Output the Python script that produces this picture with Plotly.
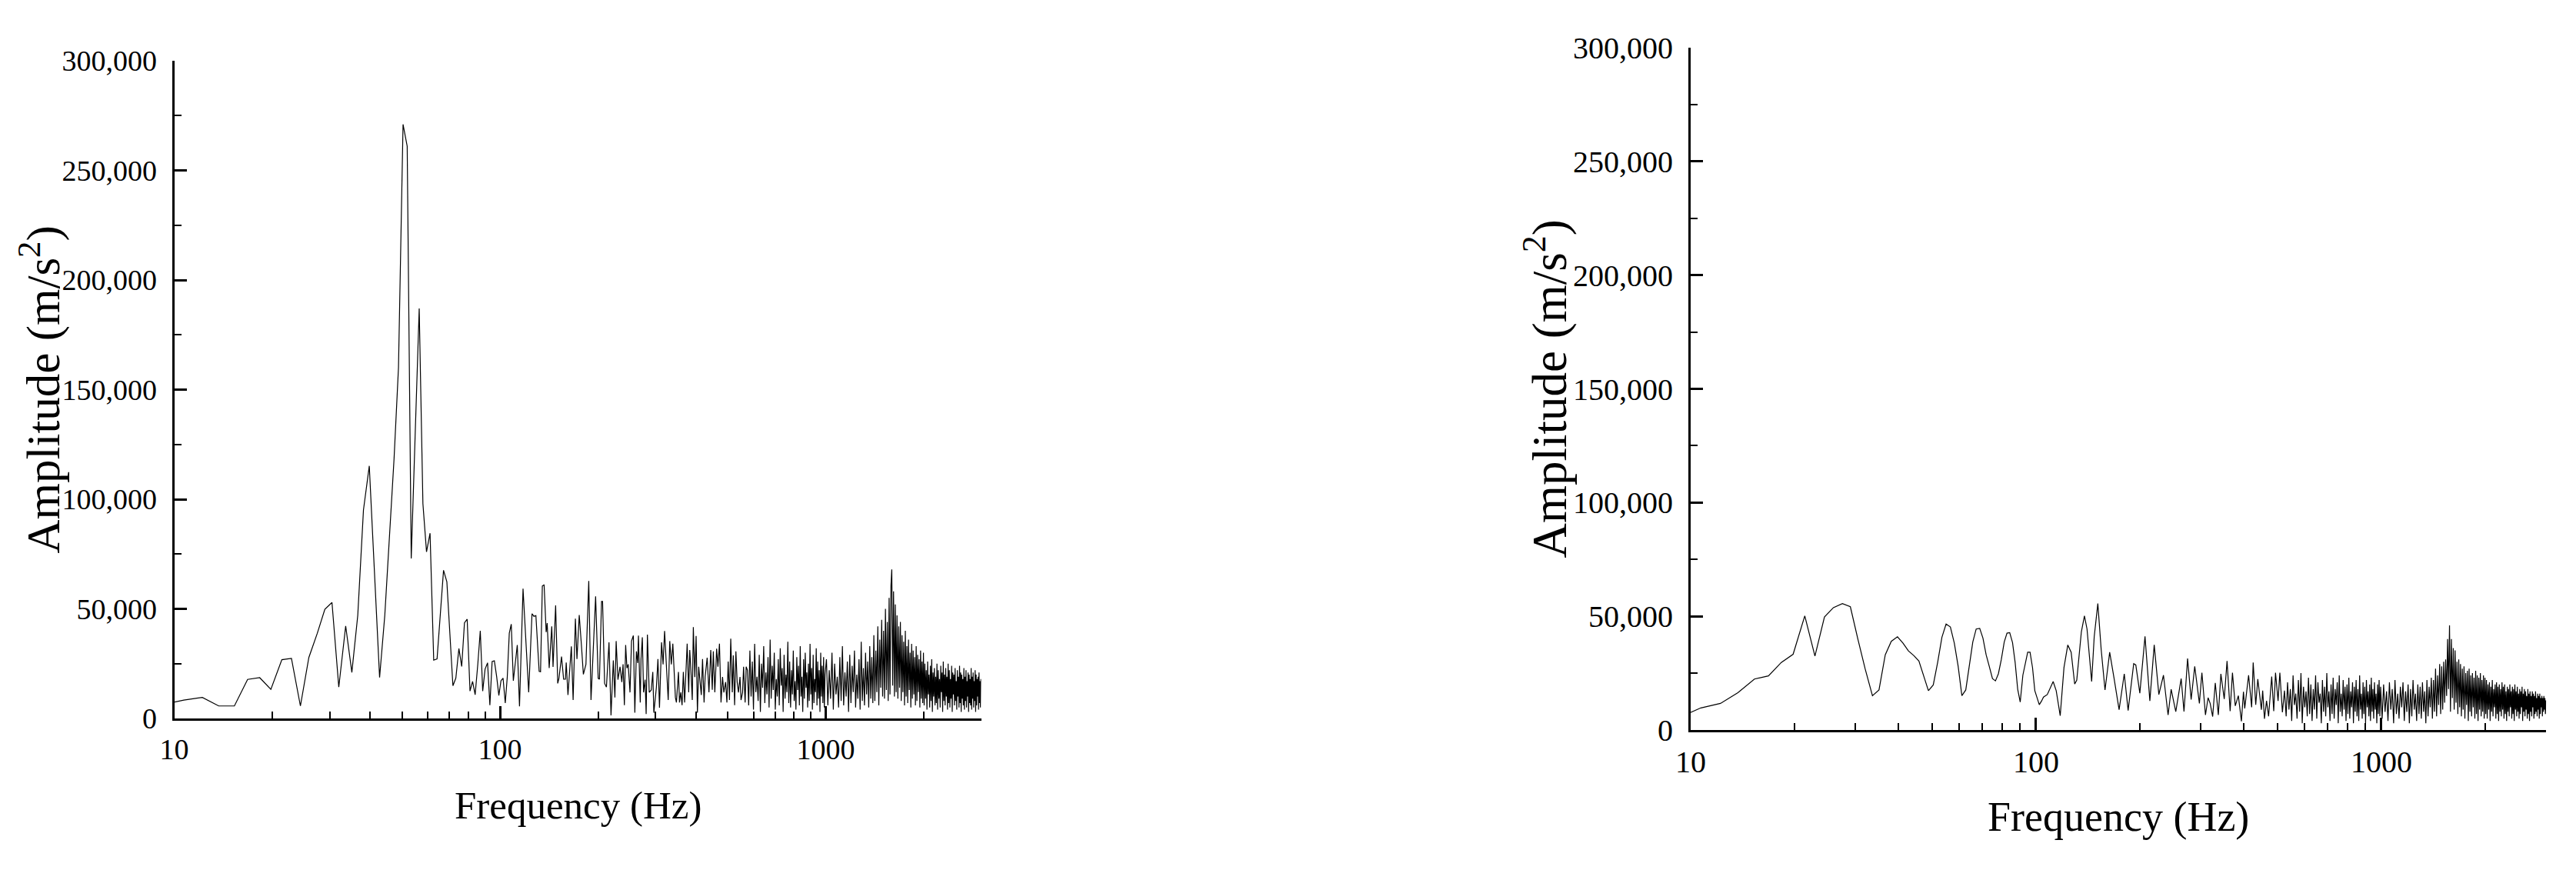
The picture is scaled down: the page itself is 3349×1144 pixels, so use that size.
import numpy as np
import plotly.graph_objects as go

# ---------------- data (amplitudes in thousands of m/s^2) ----------------
# Left spectrum: low-frequency FFT bins (Hz)
left_low_freq = [9.2, 10.7, 12.2, 13.7, 15.3, 16.8, 18.3, 19.8, 21.4, 22.9, 24.4, 25.9, 27.5, 29.0, 30.5,
                 32.0, 33.6, 35.1, 36.6, 38.1, 39.7, 41.2, 42.7, 44.3, 45.8, 47.3, 48.8, 50.4, 51.9, 53.4,
                 54.9, 56.5, 58.0, 59.5, 61.0, 62.6, 64.1, 65.6, 67.1, 68.7, 70.2, 71.7, 73.2, 74.8, 76.3,
                 77.8, 79.3, 80.9, 82.4, 83.9, 85.5, 87.0, 88.5, 90.0, 91.6, 93.1, 94.6, 96.1, 97.7, 99.2,
                 100.7, 102.2, 103.8, 105.3, 106.8, 108.3, 109.9]
left_low_amp = [6.3, 8.4, 9.6, 5.7, 5.7, 17.8, 18.6, 13.3, 26.8, 27.4, 5.7, 27.8, 38.9, 49.8, 52.9,
                14.3, 42.2, 21.0, 47.1, 95.1, 115.2, 68.0, 18.7, 47.0, 83.0, 118.5, 160.0, 271.0, 261.0, 73.0,
                129.0, 187.0, 98.0, 76.0, 84.5, 26.6, 27.2, 47.0, 67.6, 62.3, 38.9, 14.9, 18.4, 31.9, 23.7,
                43.6, 45.3, 12.5, 16.9, 10.8, 24.8, 40.0, 12.5, 22.5, 25.4, 6.1, 26.0, 26.3, 19.0, 10.5,
                17.2, 18.4, 7.0, 19.0, 38.9, 43.0, 17.2]
left_mid_freq = [113.0, 114.8, 117.7, 122.5, 125.4, 127.1, 128.9, 131.9, 133.2, 134.9, 136.6, 138.6, 139.6,
                 141.6, 144.2, 145.5, 148.2, 150.4, 151.7, 154.5, 156.8, 158.8, 159.7, 161.7, 165.6, 167.7,
                 170.4, 172.3, 175.1, 177.7, 180.3, 183.6, 187.3, 190.3, 196.6, 200.2, 202.0, 205.0, 206.5,
                 209.5, 212.2, 216.1, 219.2, 222.8, 225.3, 227.3, 230.2,
                 233.6, 236.6, 238.7, 240.9, 243.1, 245.3, 247.5, 250.7, 253.4, 256.7, 259.4, 262.3, 264.7,
                 266.1, 269.5, 271.0, 273.5, 275.9, 278.9, 281.0, 283.5, 287.2, 291.4, 294.5, 296.7, 302.1,
                 305.4, 308.8, 313.3, 316.7, 320.1, 324.8, 328.4, 332.0, 335.7, 339.3, 343.0, 345.5, 348.0,
                 350.6, 353.1, 355.7, 358.9, 362.2, 365.5, 368.8, 372.2, 375.5, 379.6, 382.4, 385.8, 389.3,
                 392.2, 396.4, 400.0, 403.7, 407.4, 411.1, 414.9, 418.6, 423.2, 426.3, 432.5, 438.0, 443.6,
                 448.4, 451.7, 456.6, 462.5, 466.7, 471.8, 477.0, 482.2, 486.6, 492.8, 497.3, 501.8, 506.4,
                 511.0, 516.6, 520.3, 525.1, 529.9, 534.7, 539.6, 545.5, 549.5, 555.5, 559.5, 565.6, 569.8]
left_mid_amp = [33.5, 5.5, 59.2, 11.9, 47.8, 46.6, 46.9, 21.5, 21.3, 60.4, 61.0, 39.4, 43.5,
                23.0, 42.0, 23.5, 51.6, 16.0, 18.3, 28.2, 17.9, 17.9, 25.5, 10.7, 32.9, 8.4,
                45.5, 27.1, 47.2, 34.1, 20.1, 24.7, 62.7, 8.4, 55.7, 18.3, 17.9, 53.4, 53.4,
                16.0, 14.3, 34.7, 1.4, 26.5, 9.6, 35.3, 17.7,
                23.6, 16.6, 24.7, 6.1, 33.5, 23.0, 24.7, 11.9, 35.3, 37.8, 2.6, 30.6, 25.3,
                37.8, 7.3, 27.1, 37.0, 11.9, 17.7, 2.0, 38.2, 11.9, 13.0, 21.2, 2.6, 14.2,
                27.1, 4.9, 34.7, 24.7, 39.9, 23.6, 8.4, 35.3, 24.7, 34.1, 21.2, 9.6, 7.3,
                13.1, 21.2, 7.3, 11.9, 6.1, 21.2, 7.3, 20.1, 34.1, 11.9, 31.2, 21.2, 8.4,
                41.7, 18.9, 37.6, 2.6, 23.6, 16.6, 10.7, 27.1, 7.3, 18.9, 27.7, 11.9, 31.2,
                13.1, 30.6, 11.9, 31.8, 23.6, 34.1, 7.3, 18.9, 11.9, 16.6, 7.3, 26.0, 8.4,
                36.4, 11.9, 28.8, 6.1, 30.6, 16.6, 11.9, 18.9, 8.4, 11.9, 23.6, 7.3, 23.6]
# 575-995 Hz, evenly spaced (5 Hz)
left_hf1_amp = [22, 6, 31, 10, 26, 4, 34, 12, 19, 8, 29, 3, 25, 14, 33, 7, 21, 11, 28, 5,
                36, 9, 24, 13, 30, 4, 18, 10, 27, 6, 32, 15, 23, 3, 29, 9, 20, 12, 35, 7,
                26, 5, 22, 11, 31, 8, 17, 4, 28, 13, 24, 6, 33, 10, 19, 3, 27, 9, 30, 14,
                21, 5, 25, 8, 34, 11, 23, 4, 29, 7, 18, 12, 32, 6, 26, 9, 22, 3, 30, 10,
                24, 7, 28, 5, 20]
# 1005-2995 Hz, evenly spaced (10 Hz)
left_hf2_amp = [27, 6, 22, 9, 30, 4, 25, 11, 19, 5, 28, 8, 33, 6, 21, 10, 26, 3, 29, 7,
                24, 12, 31, 5, 20, 9, 27, 4, 35, 8, 23, 6, 30, 11, 26, 5, 33, 9, 28, 7,
                38, 8, 31, 12, 42, 6, 36, 14, 45, 10,
                40, 9, 50, 13, 44, 8, 55, 11, 60, 68, 15, 58, 10, 52, 12, 47, 9, 42, 14, 44,
                8, 38, 12, 35, 6, 40, 10, 33, 7, 36, 13, 30, 5, 34, 9, 31, 11, 28, 6, 33,
                8, 29, 12, 27, 5, 31, 9, 26, 7, 30,
                6, 25, 9, 22, 4, 26, 11, 20, 5, 24, 8, 27, 3, 21, 10, 23, 6, 19, 7, 25,
                4, 22, 9, 18, 5, 24, 12, 21, 3, 26, 8, 20, 6, 23, 10, 19, 4, 25, 7, 22,
                5, 18, 9, 24, 3, 21, 11, 20, 6, 23, 8, 17, 4, 22, 10, 19, 5, 24, 7, 21,
                3, 20, 9, 18, 6, 23, 4, 19, 8, 22, 5, 17, 10, 21, 3, 20, 7, 18, 6, 23,
                4, 19, 9, 21, 5, 17, 8, 22, 3, 20, 6, 18, 10, 19, 4, 21, 7, 17, 5, 18]

# Right spectrum
right_low_freq = left_low_freq[:63]
right_low_amp = [5.3, 9.7, 11.7, 16.4, 22.4, 23.8, 29.7, 33.3, 50.2, 32.5, 49.7, 53.8, 55.6, 54.2, 39.9,
                 26.9, 15.1, 17.6, 33.1, 39.0, 41.0, 38.2, 34.8, 32.7, 30.3, 23.5, 17.3, 19.8, 29.7, 40.8,
                 46.6, 45.3, 38.2, 28.0, 15.1, 17.6, 28.6, 38.7, 44.4, 44.7, 40.4, 33.1, 28.0, 22.6, 21.6,
                 24.7, 30.8, 38.7, 42.6, 42.8, 38.4, 29.7, 17.9, 12.3, 24.1, 29.7, 34.2, 34.2, 27.4, 17.3,
                 13.9, 11.1, 12.8]
right_mid_freq = [105.1, 107.8, 109.7, 112.1, 114.4, 117.5, 120.5, 123.6, 126.4, 129.4, 131.2, 135.3, 138.1,
                  140.5, 144.9, 147.4, 151.0, 154.4, 158.4, 163.4, 168.2, 174.0, 180.1, 184.8, 191.8, 194.5,
                  199.8, 206.8, 213.6, 219.9, 226.8, 233.9, 241.2, 246.2, 253.9, 263.2, 268.2, 274.7, 281.3,
                  288.1, 297.2, 302.2, 309.5, 314.9, 319.3, 324.7, 330.4, 337.2, 343.0, 350.7, 357.4, 364.8,
                  370.5, 377.5, 385.3, 393.3, 398.7, 402.1, 412.6, 421.1, 425.4, 432.7, 438.7, 449.3, 453.2,
                  458.6, 465.0, 471.4, 481.3, 487.9, 493.7, 502.2, 508.2, 516.9, 524.1]
right_mid_amp = [14.5, 15.6, 18.4, 21.3, 17.3, 6.3, 27.5, 37.4, 34.2, 20.2, 21.9, 43.2, 50.2,
                 44.4, 21.3, 41.0, 55.6, 35.4, 17.6, 34.2, 22.9, 8.9, 24.7, 8.6, 29.2, 28.6,
                 16.2, 41.2, 12.8, 37.4, 15.6, 24.1, 6.6, 17.9, 8.1, 22.6, 8.1, 31.4, 13.4,
                 28.0, 11.7, 25.2, 6.6, 14.2, 11.7, 5.9, 20.7, 6.6, 24.7, 13.6, 30.3, 8.3,
                 25.2, 10.6, 15.1, 3.8, 16.8, 9.5, 24.1, 10.0, 29.7, 11.1, 22.4, 8.9, 17.3,
                 4.9, 12.8, 6.0, 23.5, 8.3, 25.2, 12.8, 25.2, 7.8, 17.3]
# 530-995 Hz, evenly spaced (5 Hz)
right_hf1_amp = [6, 21, 9, 18, 4, 24, 11, 16, 5, 22, 8, 25, 3, 19, 10, 17, 6, 23, 7, 20,
                 4, 18, 9, 24, 5, 21, 12, 16, 3, 22, 8, 19, 6, 25, 10, 17, 4, 20, 7, 23,
                 5, 18, 11, 21, 3, 24, 8, 16, 6, 22, 9, 19, 4, 20, 7, 23, 5, 17, 10, 21,
                 3, 19, 8, 22, 6, 18, 4, 24, 9, 16, 5, 21, 7, 19, 3, 22, 10, 17, 6, 20,
                 4, 23, 8, 18, 5, 21, 9, 16, 3, 20, 7, 22, 6, 19]
# 1005-2995 Hz, evenly spaced (10 Hz)
right_hf2_amp = [5, 20, 8, 17, 4, 21, 9, 18, 3, 22, 7, 16, 5, 19, 10, 21, 4, 17, 8, 20,
                 3, 18, 6, 22, 9, 16, 4, 20, 7, 19, 5, 21, 8, 17, 3, 22, 6, 19, 10, 23,
                 5, 22, 8, 27, 6, 24, 11, 29, 7, 28,
                 9, 30, 12, 31, 15, 40, 18, 46, 8, 40, 14, 36, 9, 35, 12, 30, 7, 31, 10, 29,
                 6, 27, 9, 28, 5, 25, 11, 26, 4, 27, 8, 24, 6, 25, 10, 23, 5, 26, 7, 24,
                 4, 23, 9, 25, 6, 22, 8, 24, 5, 23,
                 7, 22, 5, 20, 9, 21, 4, 19, 8, 22, 6, 18, 10, 20, 5, 21, 7, 19, 4, 20,
                 8, 18, 6, 21, 9, 19, 5, 20, 7, 17, 4, 19, 8, 18, 6, 20, 10, 17, 5, 19,
                 7, 18, 4, 20, 9, 17, 6, 19, 8, 16, 5, 18, 7, 17, 10, 19, 4, 16, 8, 18,
                 6, 17, 9, 15, 5, 18, 7, 16, 4, 17, 8, 15, 6, 17, 10, 16, 5, 15, 7, 17,
                 8, 14, 6, 16, 9, 15, 5, 16, 7, 14, 10, 15, 6, 14, 8, 15, 9, 14, 7, 13]

x_tick_vals = [10, 100, 1000]
x_tick_text = ["10", "100", "1000"]
x_minor_vals = [20, 30, 40, 50, 60, 70, 80, 90, 200, 300, 400, 500, 600, 700, 800, 900, 2000, 3000]
y_tick_vals = [0, 50000, 100000, 150000, 200000, 250000, 300000]
y_tick_text = ["0", "50,000", "100,000", "150,000", "200,000", "250,000", "300,000"]
y_minor_vals = [25000, 75000, 125000, 175000, 225000, 275000]
x_title = "Frequency (Hz)"
y_title = "Amplitude (m/s<sup>2</sup>)"


def assemble(low_f, low_a, mid_f, mid_a, hf1_range, hf1_a, hf2_range, hf2_a):
    f, a = [], []
    for ff, aa in zip(low_f, low_a):
        f.append(ff); a.append(aa)
    for ff, aa in zip(mid_f, mid_a):
        f.append(ff); a.append(aa)
    for ff, aa in zip(np.linspace(hf1_range[0], hf1_range[1], len(hf1_a)), hf1_a):
        f.append(float(ff)); a.append(aa)
    for ff, aa in zip(np.linspace(hf2_range[0], hf2_range[1], len(hf2_a)), hf2_a):
        f.append(float(ff)); a.append(aa)
    return f, [v * 1000 for v in a]


lf, la = assemble(left_low_freq, left_low_amp, left_mid_freq, left_mid_amp,
                  (575, 995), left_hf1_amp, (1005, 2995), left_hf2_amp)
rf, ra = assemble(right_low_freq, right_low_amp, right_mid_freq, right_mid_amp,
                  (530, 995), right_hf1_amp, (1005, 2995), right_hf2_amp)

W, H = 3349, 1144
OFF = 8  # default page (body) margin that shifts the figure in the browser
FONT = "Liberation Serif, Times New Roman, serif"

fig = go.Figure()
fig.add_trace(go.Scatter(x=lf, y=la, mode="lines", line=dict(color="black", width=1.2),
                         xaxis="x", yaxis="y", showlegend=False, hoverinfo="skip"))
fig.add_trace(go.Scatter(x=rf, y=ra, mode="lines", line=dict(color="black", width=1.2),
                         xaxis="x2", yaxis="y2", showlegend=False, hoverinfo="skip"))


def xaxis_style(dom, anchor, fs):
    return dict(domain=dom, anchor=anchor, type="log", range=[1, np.log10(3000)],
                automargin=False,
                showline=True, linecolor="black", linewidth=3, mirror=False,
                showgrid=False, zeroline=False,
                tickmode="array", tickvals=x_tick_vals, ticktext=x_tick_text,
                ticks="inside", ticklen=16, tickwidth=3, tickcolor="black",
                minor=dict(tickmode="array", tickvals=x_minor_vals, ticks="inside",
                           ticklen=9, tickwidth=2, tickcolor="black", showgrid=False),
                tickfont=dict(family=FONT, size=fs, color="black"),
                ticklabelstandoff=4)


def yaxis_style(dom, anchor, fs):
    return dict(domain=dom, anchor=anchor, range=[0, 300000],
                automargin=False,
                showline=True, linecolor="black", linewidth=3, mirror=False,
                showgrid=False, zeroline=False,
                tickmode="array", tickvals=y_tick_vals, ticktext=y_tick_text,
                ticks="inside", ticklen=16, tickwidth=3, tickcolor="black",
                minor=dict(tickmode="array", tickvals=y_minor_vals, ticks="inside",
                           ticklen=9, tickwidth=2, tickcolor="black", showgrid=False),
                tickfont=dict(family=FONT, size=fs, color="black"),
                ticklabelstandoff=12)


# target pixel positions in the screenshot, shifted back by the page margin
L_x0, L_x1, L_ytop, L_ybot = 226.5 - OFF, 1275.6 - OFF, 79 - OFF, 934 - OFF
R_x0, R_x1, R_ytop, R_ybot = 2198 - OFF, 3310.2 - OFF, 62 - OFF, 949 - OFF

fig.update_layout(
    width=W, height=H, margin=dict(l=0, r=0, t=0, b=0, pad=0, autoexpand=False),
    paper_bgcolor="white", plot_bgcolor="white", showlegend=False,
    xaxis=xaxis_style([L_x0 / W, L_x1 / W], "y", 38),
    yaxis=yaxis_style([1 - L_ybot / H, 1 - L_ytop / H], "x", 38),
    xaxis2=xaxis_style([R_x0 / W, R_x1 / W], "y2", 40),
    yaxis2=yaxis_style([1 - R_ybot / H, 1 - R_ytop / H], "x2", 40),
)

annots = [
    dict(text=y_title, x=(52 - OFF) / W, y=1 - (L_ytop + L_ybot) / 2 / H, textangle=-90, fs=61),
    dict(text=y_title, x=(2010 - OFF) / W, y=1 - (R_ytop + R_ybot) / 2 / H, textangle=-90, fs=63),
    dict(text=x_title, x=(L_x0 + L_x1) / 2 / W, y=1 - (1047 - OFF) / H, textangle=0, fs=51),
    dict(text=x_title, x=(R_x0 + R_x1) / 2 / W, y=1 - (1062 - OFF) / H, textangle=0, fs=54),
]
for a in annots:
    fig.add_annotation(text=a["text"], x=a["x"], y=a["y"], xref="paper", yref="paper",
                       xanchor="center", yanchor="middle", textangle=a["textangle"],
                       showarrow=False, font=dict(family=FONT, size=a["fs"], color="black"))

fig.write_html("out.html")
